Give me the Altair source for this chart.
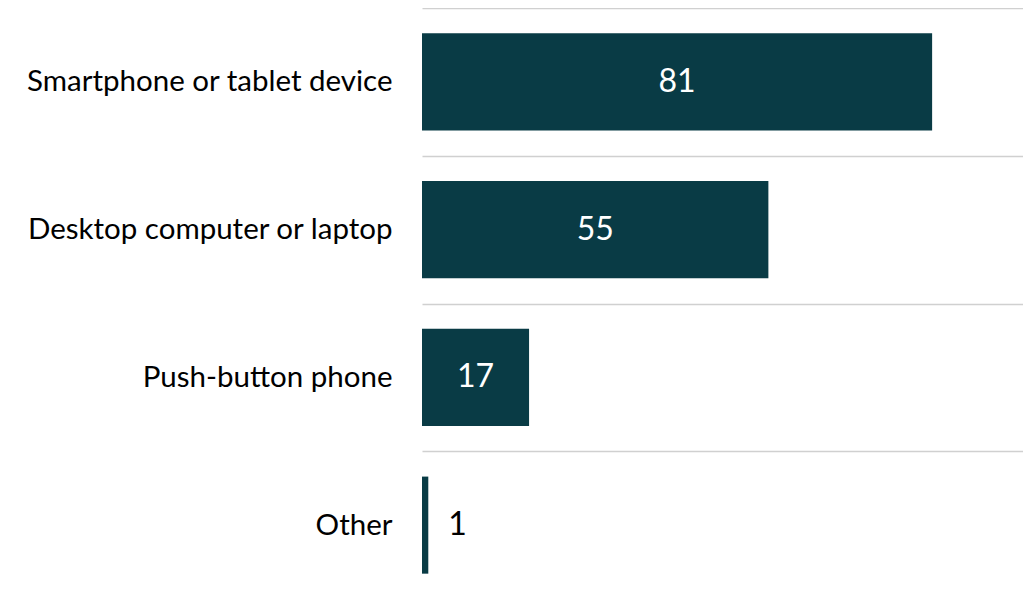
import altair as alt
import pandas as pd

categories = ["Smartphone or tablet device", "Desktop computer or laptop", "Push-button phone\u00a0", "Other"]
values = [81, 55, 17, 1]

df = pd.DataFrame({"cat": categories, "val": values})
df["half"] = df["val"] / 2

FONT = "Lato"
BAR = "#093b45"

y_enc = alt.Y(
    "cat:N",
    sort=categories,
    title=None,
    scale=alt.Scale(paddingInner=0, paddingOuter=0),
    axis=alt.Axis(
        grid=True, gridColor="#d0d0d0", gridWidth=1.5, tickBand="extent",
        ticks=False, domain=False, labelPadding=30, labelFont=FONT,
        labelFontSize=29.5, labelColor="#000000", labelLimit=500,
    ),
)
x_scale = alt.Scale(domain=[0, 96.7], nice=False, zero=True)

base = alt.Chart(df)

bars = base.mark_bar(color=BAR, height={"band": 0.657}).encode(
    x=alt.X("val:Q", scale=x_scale, axis=None),
    y=y_enc,
)

inside = base.transform_filter("datum.val >= 5").mark_text(
    font=FONT, fontSize=32, color="white", align="center", baseline="middle"
).encode(
    x=alt.X("half:Q", scale=x_scale),
    y=alt.Y("cat:N", sort=categories),
    text=alt.Text("val:Q"),
)

outside = base.transform_filter("datum.val < 5").mark_text(
    font=FONT, fontSize=32, color="black", align="left", baseline="middle", dx=20
).encode(
    x=alt.X("val:Q", scale=x_scale),
    y=alt.Y("cat:N", sort=categories),
    text=alt.Text("val:Q"),
)

chart = alt.layer(bars, inside, outside).properties(
    width=609, height=591,
    autosize=alt.AutoSizeParams(type="none"),
    padding={"left": 414, "top": 0, "right": -8, "bottom": -14},
).configure_view(stroke=None)

chart.save("out.html", embed_options={"renderer": "svg", "actions": False})
